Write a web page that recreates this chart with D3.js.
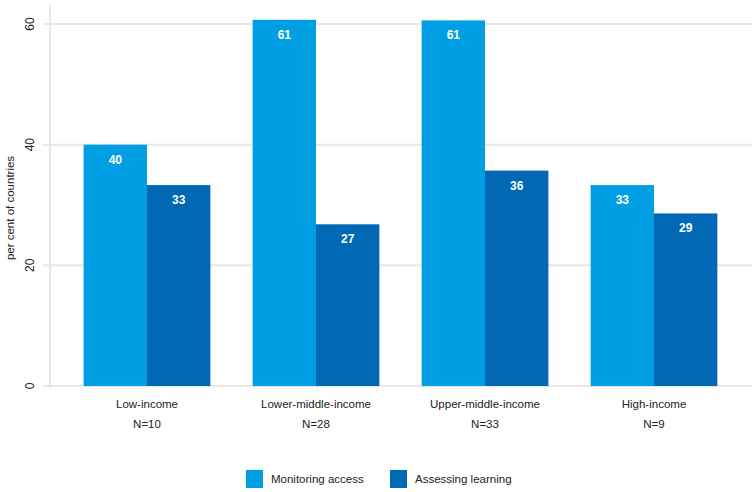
<!DOCTYPE html>
<html><head><meta charset="utf-8">
<script src="https://cdn.jsdelivr.net/npm/d3@7"></script>
<style>body{margin:0;background:#fff}svg{display:block}text{font-family:"Liberation Sans",Arial,sans-serif}</style>
</head><body><svg id="c" width="754" height="492"></svg>
<script>
const categories = ["Low-income","Lower-middle-income","Upper-middle-income","High-income"];
const nLabels = ["N=10","N=28","N=33","N=9"];
const series = ["Monitoring access","Assessing learning"];
const monitoring = [40.0, 60.7, 60.6, 33.3];
const assessing = [33.3, 26.8, 35.7, 28.6];
const valueLabels = [[40,33],[61,27],[61,36],[33,29]];
const yTicks = [0,20,40,60];
const colors = ["#009fe3","#0068b4"];

const svg = d3.select("#c");
const x = d3.scaleBand().domain(categories).range([62.5,738.5]).paddingInner(0.25).paddingOuter(0.125);
const xs = d3.scaleBand().domain(series).range([0,x.bandwidth()]);
const y = d3.scaleLinear().domain([0,60]).range([386,24]);

// gridlines
svg.append("g").selectAll("line").data(yTicks).join("line")
  .attr("x1",43).attr("x2",752).attr("y1",d=>y(d)).attr("y2",d=>y(d))
  .attr("stroke","#ece6e1").attr("stroke-width",2);
svg.append("line").attr("x1",50).attr("x2",50).attr("y1",5).attr("y2",388)
  .attr("stroke","#ece6e1").attr("stroke-width",2);

// y tick labels
svg.append("g").selectAll("text").data(yTicks).join("text")
  .attr("transform",d=>`translate(34,${y(d)}) rotate(-90)`)
  .attr("text-anchor","middle").attr("font-size",12).attr("fill","#222")
  .text(d=>d);
svg.append("text").attr("transform","translate(14,208) rotate(-90)")
  .attr("text-anchor","middle").attr("font-size",11.5).attr("fill","#222")
  .text("per cent of countries");

const data = categories.map((c,i)=>({c, vals:[monitoring[i],assessing[i]], labels:valueLabels[i]}));
const g = svg.append("g").selectAll("g").data(data).join("g")
  .attr("transform",d=>`translate(${x(d.c)},0)`);
g.selectAll("rect").data(d=>d.vals.map((v,j)=>({s:series[j],v,j}))).join("rect")
  .attr("x",d=>xs(d.s)).attr("width",xs.bandwidth())
  .attr("y",d=>y(d.v)).attr("height",d=>y(0)-y(d.v))
  .attr("fill",d=>colors[d.j]);
g.selectAll("text.v").data(d=>d.vals.map((v,j)=>({s:series[j],v,j,l:d.labels[j]}))).join("text")
  .attr("class","v").attr("x",d=>xs(d.s)+xs.bandwidth()/2).attr("y",d=>y(d.v)+19)
  .attr("text-anchor","middle").attr("font-size",12).attr("font-weight","bold").attr("fill","#fff")
  .text(d=>d.l);

// x labels
svg.append("g").selectAll("text").data(categories).join("text")
  .attr("x",d=>x(d)+x.bandwidth()/2).attr("y",408).attr("text-anchor","middle")
  .attr("font-size",11.5).attr("fill","#222").text(d=>d);
svg.append("g").selectAll("text").data(categories).join("text")
  .attr("x",d=>x(d)+x.bandwidth()/2).attr("y",428).attr("text-anchor","middle")
  .attr("font-size",11.5).attr("fill","#222").text((d,i)=>nLabels[i]);

// legend
const legX = [246,390];
const lg = svg.append("g").selectAll("g").data(series).join("g")
  .attr("transform",(d,i)=>`translate(${legX[i]},470)`);
lg.append("rect").attr("width",17).attr("height",18).attr("fill",(d,i)=>colors[i]);
lg.append("text").attr("x",25).attr("y",13).attr("font-size",11.5).attr("fill","#222").text(d=>d);
</script></body></html>
